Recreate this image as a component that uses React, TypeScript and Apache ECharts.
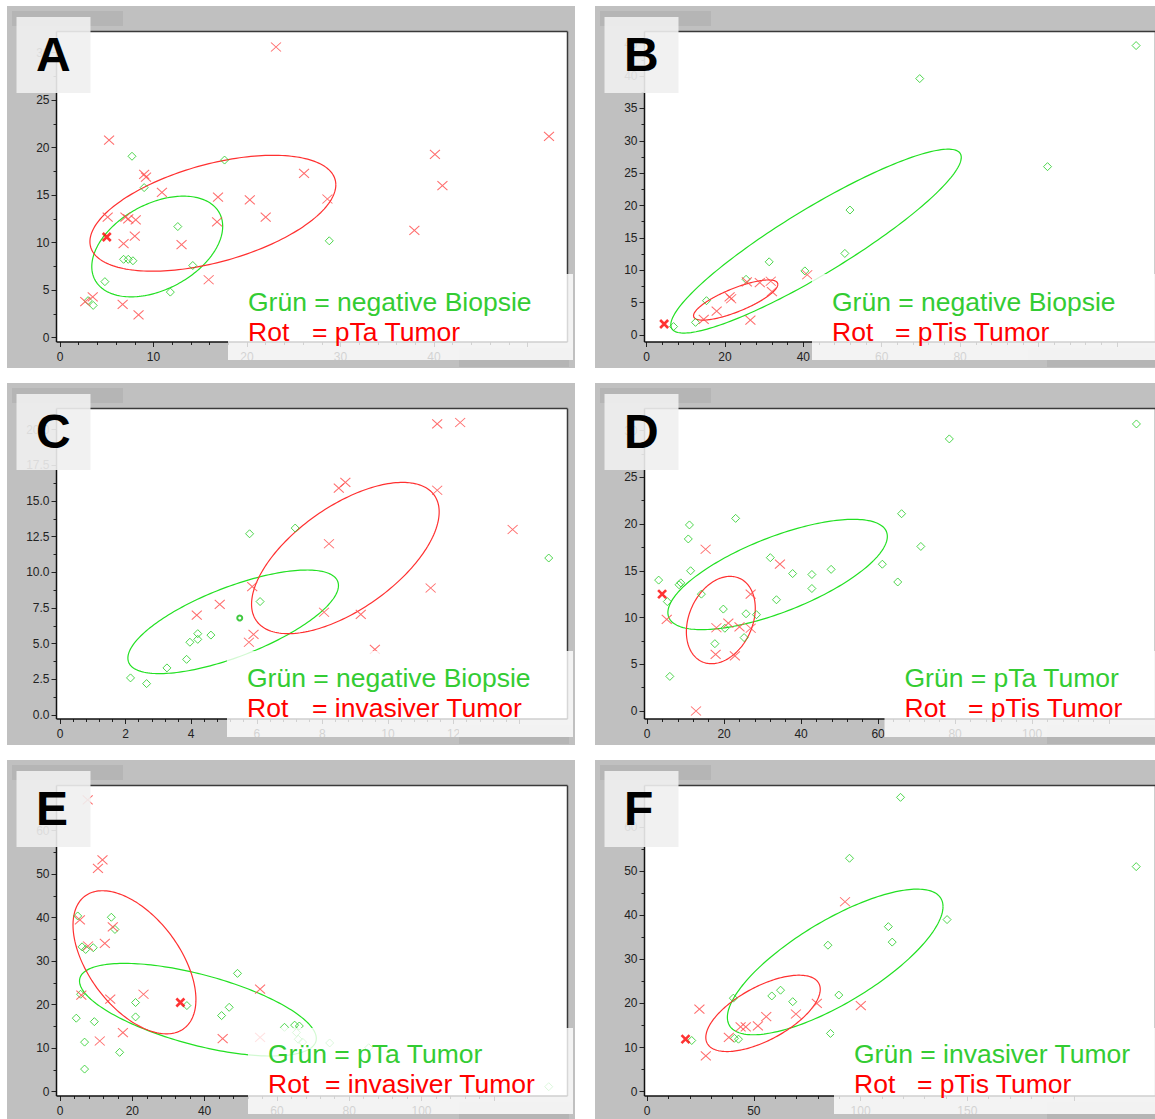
import React, { useEffect, useRef } from "react";
import * as echarts from "echarts";

// ---------------- DATA ----------------
// Panel A: green = negative Biopsie, red = pTa Tumor
const aGreen = [[7.7,19.1],[17.6,18.7],[9.0,15.8],[12.6,11.7],[28.8,10.2],[6.8,8.25],[7.3,8.25],[7.8,8.1],[14.2,7.6],[4.8,5.9],[11.8,4.8],[3.0,3.9],[3.55,3.4]];
const aRed = [[23.1,30.6],[5.25,20.8],[52.3,21.2],[40.1,19.3],[40.9,16.0],[9.0,17.2],[9.2,16.9],[26.1,17.3],[10.9,15.3],[16.9,14.8],[20.3,14.5],[28.6,14.6],[22.0,12.7],[5.1,12.7],[7.0,12.7],[7.3,12.5],[8.1,12.4],[16.8,12.2],[37.9,11.3],[8.0,10.7],[6.8,9.9],[13.0,9.8],[15.9,6.1],[3.5,4.3],[2.7,3.8],[6.7,3.5],[8.4,2.4]];
const aRedBold = [[5.0,10.6]];
// ellipse: [centerX, centerY, halfWidthX, halfHeightY, correlation]
const aGreenEllipse = [10.4, 9.6, 7.0, 5.3, 0.4];
const aRedEllipse = [16.35, 13.1, 13.15, 6.1, 0.49];

// Panel B: green = negative Biopsie, red = pTis Tumor
const bGreen = [[124.9,44.7],[69.7,39.6],[102.3,26.0],[51.9,19.3],[50.6,12.6],[31.3,11.3],[40.4,9.9],[25.4,8.6],[15.3,5.3],[12.5,1.95],[6.9,1.3]];
const bRed = [[41.0,9.3],[25.6,8.2],[28.9,8.1],[31.7,8.3],[32.0,6.7],[21.2,5.9],[21.6,5.6],[17.9,3.7],[14.6,2.4],[26.5,2.3]];
const bRedBold = [[4.5,1.7]];
const bGreenEllipse = [43.25, 14.5, 37.05, 14.2, 0.91];
const bRedEllipse = [22.75, 5.4, 10.75, 3.1, 0.78];

// Panel C: green = negative Biopsie, red = invasiver Tumor
const cGreen = [[14.9,11.0],[7.17,13.1],[5.78,12.7],[6.1,7.95],[4.6,5.6],[4.2,5.7],[4.2,5.3],[3.96,5.1],[3.86,3.9],[3.26,3.3],[2.15,2.6],[2.64,2.2]];
const cGreenBold = [[5.48,6.8]];
const cRed = [[11.5,20.4],[12.2,20.5],[8.7,16.3],[8.5,15.9],[11.5,15.75],[13.8,13.0],[8.2,12.0],[5.86,9.0],[11.3,8.9],[4.87,7.75],[4.17,7.0],[8.05,7.2],[9.17,7.05],[5.9,5.65],[5.76,5.1],[9.6,4.6]];
const cGreenEllipse = [5.28, 6.53, 3.21, 3.63, 0.7];
const cRedEllipse = [8.7, 11.0, 2.86, 5.3, 0.61];

// Panel D: green = pTa Tumor, red = pTis Tumor
const dGreen = [[127.1,30.7],[78.5,29.1],[66.1,21.1],[23.0,20.6],[11.0,19.9],[10.7,18.4],[71.1,17.6],[32.0,16.4],[61.1,15.7],[11.3,15.0],[47.8,15.15],[37.8,14.7],[42.8,14.6],[3.0,14.0],[65.1,13.8],[8.75,13.7],[8.3,13.5],[42.8,13.1],[14.1,12.5],[5.25,11.7],[33.6,11.9],[19.8,10.9],[25.7,10.4],[28.4,10.3],[20.2,8.85],[25.2,7.85],[17.6,7.2],[5.9,3.7]];
const dRed = [[15.2,17.3],[34.5,15.7],[26.9,12.5],[5.1,9.8],[18.0,8.9],[21.1,9.4],[24.0,9.0],[26.9,8.85],[17.8,6.05],[22.8,5.9],[12.7,0.0]];
const dRedBold = [[3.9,12.5]];
const dGreenEllipse = [33.9, 14.6, 28.5, 5.9, 0.69];
const dRedEllipse = [19.15, 9.73, 8.95, 4.67, 0.27];

// Panel E: green = pTa Tumor, red = invasiver Tumor
const eGreen = [[4.9,40.4],[14.2,40.1],[15.2,37.3],[6.1,33.3],[9.2,33.1],[7.1,32.7],[49.1,27.2],[5.7,22.4],[20.9,20.5],[35.1,19.8],[46.8,19.4],[44.7,17.5],[20.9,17.2],[4.5,16.9],[9.5,16.1],[64.9,15.3],[66.2,15.1],[62.1,14.8],[65.4,13.6],[65.9,12.05],[67.1,11.4],[6.8,11.4],[74.6,11.2],[16.5,9.05],[85.4,10.1],[6.8,5.2],[135.2,1.15]];
const eRed = [[7.66,67.1],[11.75,53.3],[10.5,51.35],[5.5,39.5],[14.6,37.9],[12.4,34.1],[7.75,33.5],[55.35,23.6],[23.1,22.4],[5.9,22.2],[13.9,21.3],[17.4,13.6],[45.0,12.2],[55.35,12.5],[11.0,11.65]];
const eRedBold = [[33.3,20.5]];
const eGreenEllipse = [38.15, 18.85, 32.75, 10.65, -0.62];
const eRedEllipse = [20.6, 29.75, 17.0, 16.45, -0.52];

// Panel F: green = invasiver Tumor, red = pTis Tumor
const fGreen = [[118.7,66.7],[94.8,52.9],[229.1,51.0],[140.5,39.0],[113.0,37.4],[114.8,33.9],[84.7,33.2],[62.5,23.0],[58.4,21.7],[89.8,21.9],[68.2,20.4],[40.4,21.2],[85.9,13.2],[40.9,12.1],[42.8,11.9],[20.9,11.6]];
const fRed = [[92.7,43.05],[24.5,18.7],[79.5,20.0],[100.1,19.5],[69.7,17.6],[55.8,17.0],[51.9,14.9],[43.8,14.7],[46.2,14.7],[38.3,12.3],[27.5,8.1]];
const fRedBold = [[18.0,11.9]];
const fGreenEllipse = [88.1, 29.4, 50.5, 16.5, 0.76];
const fRedEllipse = [54.3, 17.75, 26.8, 8.65, 0.63];

// Axis ticks
const xMaxes = [50, 120, 14, 120, 120, 200];
const xIntervals = [10, 20, 2, 20, 20, 50];
const yMaxes = [30, 45, 20, 30, 60, 60];
const yIntervals = [5, 5, 2.5, 5, 10, 10];

// Texts
const panelLetters = ["A", "B", "C", "D", "E", "F"];
const legendGreen = ["Grün = negative Biopsie", "Grün = negative Biopsie", "Grün = negative Biopsie", "Grün = pTa Tumor", "Grün = pTa Tumor", "Grün = invasiver Tumor"];
const legendRedName = "Rot";
const legendRed = ["= pTa Tumor", "= pTis Tumor", "= invasiver Tumor", "= pTis Tumor", "= invasiver Tumor", "= pTis Tumor"];

const greens = [aGreen, bGreen, cGreen, dGreen, eGreen, fGreen];
const reds = [aRed, bRed, cRed, dRed, eRed, fRed];
const redBolds = [aRedBold, bRedBold, [], dRedBold, eRedBold, fRedBold];
const greenBolds = [[], [], cGreenBold, [], [], []];
const greenEllipses = [aGreenEllipse, bGreenEllipse, cGreenEllipse, dGreenEllipse, eGreenEllipse, fGreenEllipse];
const redEllipses = [aRedEllipse, bRedEllipse, cRedEllipse, dRedEllipse, eRedEllipse, fRedEllipse];

// ---------------- LAYOUT ----------------
const LAYOUT = [
  { ox: 7, oy: 6, x0: 60, y0: 337.7, sx: 9.35, sy: 9.5, lx: 248, rx: 312, base: 311, cover: 452 },
  { ox: 595, oy: 6, x0: 646.5, y0: 335, sx: 3.92, sy: 6.475, lx: 832, rx: 895, base: 311, cover: 433 },
  { ox: 7, oy: 383, x0: 60, y0: 715, sx: 32.8, sy: 14.27, lx: 247, rx: 312, base: 687, cover: 452 },
  { ox: 595, oy: 383, x0: 647.1, y0: 711, sx: 3.85, sy: 9.35, lx: 904.5, rx: 968, base: 687, cover: 452 },
  { ox: 7, oy: 760, x0: 60, y0: 1091.7, sx: 3.615, sy: 4.35, lx: 268, rx: 325, base: 1063, cover: 452 },
  { ox: 595, oy: 760, x0: 647.1, y0: 1091.7, sx: 2.135, sy: 4.413, lx: 854, rx: 917, base: 1063, cover: 452 },
];
const LEGEND_FS = 26.5;

const GREEN_MARK = "#22cc22";
const RED_MARK = "#ff4848";
const GREEN_LINE = "#22e022";
const RED_LINE = "#ff3030";
const GREEN_TEXT = "#33cc33";
const RED_TEXT = "#ff0000";
const FONT = "'Liberation Sans', Arial, sans-serif";

function ellipseSeries(i: number, params: number[], color: string) {
  return {
    type: "custom",
    xAxisIndex: i,
    yAxisIndex: i,
    silent: true,
    z: 3,
    clip: false,
    data: [params],
    encode: { x: 0, y: 1 },
    renderItem: (_p: any, api: any) => {
      const cx = api.value(0), cy = api.value(1), hx = api.value(2), hy = api.value(3), rho = api.value(4);
      const d = Math.acos(rho);
      const pts: number[][] = [];
      for (let k = 0; k <= 200; k++) {
        const t = (k / 200) * Math.PI * 2;
        pts.push(api.coord([cx + hx * Math.cos(t), cy + hy * Math.cos(t - d)]));
      }
      return { type: "polyline", shape: { points: pts }, style: { stroke: color, fill: "none", lineWidth: 1.2 } };
    },
  };
}

function buildOption() {
  const grid: any[] = [];
  const xAxis: any[] = [];
  const yAxis: any[] = [];
  const series: any[] = [];
  const graphic: any[] = [];

  LAYOUT.forEach((L, i) => {
    const fl = L.ox + 49.5, ft = L.oy + 25.5, fr = L.ox + 560.5, fb = L.oy + 336;
    const gw = xMaxes[i] * L.sx;
    const gh = yMaxes[i] * L.sy;
    grid.push({ left: L.x0, top: L.y0 - gh, width: gw, height: gh, outerBoundsMode: "none", containLabel: false });
    const tickStyle = { color: "#222", width: 1 };
    xAxis.push({
      type: "value", gridIndex: i, min: 0, max: xMaxes[i], interval: xIntervals[i],
      offset: fb - L.y0,
      axisLine: { show: false, onZero: false },
      axisTick: { show: true, length: 5, lineStyle: tickStyle },
      minorTick: { show: true, splitNumber: 5, length: 3, lineStyle: tickStyle },
      splitLine: { show: false }, minorSplitLine: { show: false },
      axisLabel: { color: "#222", fontSize: 12, fontFamily: FONT, margin: 9 },
    });
    yAxis.push({
      type: "value", gridIndex: i, min: 0, max: yMaxes[i], interval: yIntervals[i],
      offset: L.x0 - fl,
      axisLine: { show: false, onZero: false },
      axisTick: { show: true, length: 5, lineStyle: tickStyle },
      minorTick: { show: true, splitNumber: 2, length: 3, lineStyle: tickStyle },
      splitLine: { show: false }, minorSplitLine: { show: false },
      axisLabel: {
        color: "#222", fontSize: 12, fontFamily: FONT, margin: 7,
        formatter: i === 2 ? (v: number) => v.toFixed(1) : (v: number) => String(v),
      },
    });

    series.push(ellipseSeries(i, greenEllipses[i], GREEN_LINE));
    series.push(ellipseSeries(i, redEllipses[i], RED_LINE));
    series.push({
      type: "scatter", xAxisIndex: i, yAxisIndex: i, data: greens[i], silent: true, clip: false, z: 4,
      symbol: "diamond", symbolSize: [8, 8],
      itemStyle: { color: "rgba(0,0,0,0)", borderColor: GREEN_MARK, borderWidth: 1 },
    });
    series.push({
      type: "scatter", xAxisIndex: i, yAxisIndex: i, data: reds[i], silent: true, clip: false, z: 5,
      symbol: "path://M0,0L10,10M10,0L0,10", symbolSize: [10, 9],
      itemStyle: { color: "rgba(0,0,0,0)", borderColor: RED_MARK, borderWidth: 1 },
    });
    if (redBolds[i].length) {
      series.push({
        type: "scatter", xAxisIndex: i, yAxisIndex: i, data: redBolds[i], silent: true, clip: false, z: 6,
        symbol: "path://M0,0L10,10M10,0L0,10", symbolSize: [8, 8],
        itemStyle: { color: "rgba(0,0,0,0)", borderColor: "#ff0000", borderWidth: 2.6 },
      });
    }
    if (greenBolds[i].length) {
      series.push({
        type: "scatter", xAxisIndex: i, yAxisIndex: i, data: greenBolds[i], silent: true, clip: false, z: 6,
        symbol: "circle", symbolSize: 5,
        itemStyle: { color: "rgba(0,0,0,0)", borderColor: "#11bb11", borderWidth: 2 },
      });
    }

    // panel background and frame
    graphic.push({ type: "rect", z: -10, silent: true, shape: { x: L.ox, y: L.oy, width: 568, height: 362 }, style: { fill: "#c0c0c0" } });
    graphic.push({ type: "rect", z: -9, silent: true, shape: { x: L.ox + 5, y: L.oy + 5, width: 111, height: 15 }, style: { fill: "#b5b5b5" } });
    graphic.push({ type: "rect", z: -8, silent: true, shape: { x: fl, y: ft, width: fr - fl, height: fb - ft }, style: { fill: "#ffffff" } });
    graphic.push({ type: "line", z: 1, silent: true, shape: { x1: fl, y1: ft, x2: fr, y2: ft }, style: { stroke: "#3a3a3a", lineWidth: 1.5 } });
    graphic.push({ type: "line", z: 1, silent: true, shape: { x1: fr, y1: ft, x2: fr, y2: fb }, style: { stroke: "#3a3a3a", lineWidth: 1.5 } });
    graphic.push({ type: "line", z: 1, silent: true, shape: { x1: fl, y1: ft, x2: fl, y2: fb }, style: { stroke: "#111", lineWidth: 1.5 } });
    graphic.push({ type: "line", z: 1, silent: true, shape: { x1: fl, y1: fb, x2: fr, y2: fb }, style: { stroke: "#111", lineWidth: 1.5 } });

    // legend box (semi-transparent; hides the right part of the x labels) and texts
    const bx = L.lx - 20;
    const boxBottom = L.oy + 354;
    graphic.push({ type: "rect", z: 10, silent: true, shape: { x: bx, y: L.oy + 268, width: L.ox + 566 - bx, height: boxBottom - L.oy - 268 }, style: { fill: "rgba(255,255,255,0.8)" } });
    graphic.push({ type: "rect", z: 10, silent: true, shape: { x: L.ox + L.cover, y: fb + 6, width: 566 - L.cover, height: boxBottom - fb - 6 }, style: { fill: "#f2f2f2" } });
    graphic.push({ type: "rect", z: 10, silent: true, shape: { x: bx, y: boxBottom, width: L.ox + 568 - bx, height: 8 }, style: { fill: "#c0c0c0" } });
    graphic.push({ type: "rect", z: 10, silent: true, shape: { x: L.ox + 452, y: boxBottom, width: 110, height: 7 }, style: { fill: "#b5b5b5" } });
    const off = 0.35 * LEGEND_FS;
    graphic.push({ type: "text", z: 11, silent: true, x: L.lx, y: L.base - off, style: { text: legendGreen[i], fill: GREEN_TEXT, fontSize: LEGEND_FS, fontFamily: FONT, verticalAlign: "middle", align: "left" } });
    graphic.push({ type: "text", z: 11, silent: true, x: L.lx, y: L.base + 30 - off, style: { text: legendRedName, fill: RED_TEXT, fontSize: LEGEND_FS, fontFamily: FONT, verticalAlign: "middle", align: "left" } });
    graphic.push({ type: "text", z: 11, silent: true, x: L.rx, y: L.base + 30 - off, style: { text: legendRed[i], fill: RED_TEXT, fontSize: LEGEND_FS, fontFamily: FONT, verticalAlign: "middle", align: "left" } });

    // panel letter box
    graphic.push({ type: "rect", z: 10, silent: true, shape: { x: L.ox + 9.5, y: L.oy + 11, width: 74, height: 76 }, style: { fill: "rgba(240,240,240,0.9)" } });
    graphic.push({ type: "text", z: 11, silent: true, x: L.ox + 29, y: L.oy + 65 - 0.35 * 48, style: { text: panelLetters[i], fill: "#000", fontSize: 48, fontWeight: "bold", fontFamily: FONT, verticalAlign: "middle", align: "left" } });
  });

  return { animation: false, backgroundColor: "#ffffff", grid, xAxis, yAxis, series, graphic };
}

export default function App() {
  const ref = useRef<HTMLDivElement>(null);
  useEffect(() => {
    document.body.style.margin = "0";
    if (!ref.current) return;
    const chart = echarts.init(ref.current, null, { renderer: "svg" });
    chart.setOption(buildOption() as any);
    return () => chart.dispose();
  }, []);
  return <div ref={ref} style={{ width: 1155, height: 1119 }} />;
}
